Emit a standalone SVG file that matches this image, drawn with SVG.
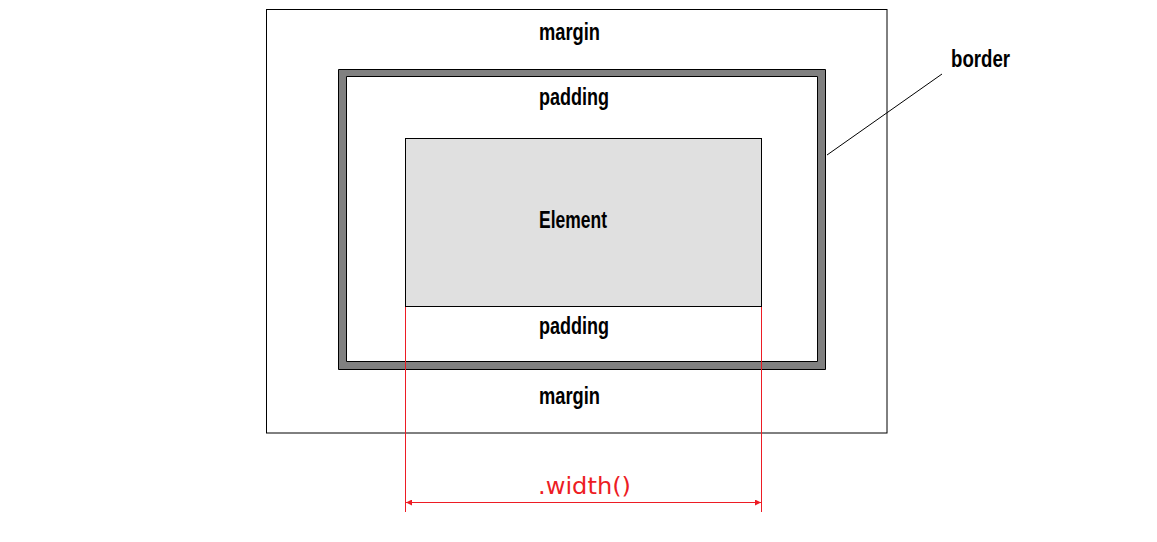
<svg xmlns="http://www.w3.org/2000/svg" width="1157" height="542" viewBox="0 0 1157 542">
<style>
.lbl{font-family:"Liberation Sans",Arial,sans-serif;font-weight:bold;font-size:23px;fill:#000}
.red{stroke:#ed1c24;stroke-width:1;fill:none}
</style>
<defs>
<marker id="ah" viewBox="0 0 10 10" refX="10" refY="5" markerWidth="6" markerHeight="6" orient="auto-start-reverse" markerUnits="userSpaceOnUse">
<path d="M0,0 L10,5 L0,10 Z" fill="#ed1c24"/>
</marker>
</defs>
<rect width="1157" height="542" fill="#fff"/>
<g id="margin">
<rect x="266.5" y="9.5" width="620.5" height="423.5" fill="#fff" stroke="#000"/>
<text class="lbl" x="539" y="40" textLength="61" lengthAdjust="spacingAndGlyphs">margin</text>
<text class="lbl" x="539" y="404" textLength="61" lengthAdjust="spacingAndGlyphs">margin</text>
</g>
<g id="border">
<path d="M338.5,69.5 H825.5 V369.5 H338.5 Z M346.5,76.5 V361.5 H817.5 V76.5 Z" fill="#808080" fill-rule="evenodd" stroke="#000"/>
<text class="lbl" x="951" y="67" textLength="59" lengthAdjust="spacingAndGlyphs">border</text>
</g>
<g id="padding">
<text class="lbl" x="539" y="105" textLength="70" lengthAdjust="spacingAndGlyphs">padding</text>
<text class="lbl" x="539" y="334" textLength="70" lengthAdjust="spacingAndGlyphs">padding</text>
</g>
<g id="element">
<rect x="405.5" y="138.5" width="356" height="168" fill="#e0e0e0" stroke="#000"/>
<text class="lbl" x="539" y="228" textLength="68" lengthAdjust="spacingAndGlyphs">Element</text>
</g>
<g id="connectors">
<line x1="827" y1="155" x2="942" y2="74" stroke="#000" stroke-width="1"/>
<line class="red" x1="405.5" y1="307" x2="405.5" y2="512"/>
<line class="red" x1="761.5" y1="307" x2="761.5" y2="512"/>
<line class="red" x1="406" y1="502.5" x2="761" y2="502.5" marker-start="url(#ah)" marker-end="url(#ah)"/>
<text x="538" y="494" font-family="'DejaVu Sans',Verdana,sans-serif" font-size="23" fill="#ed1c24" textLength="93" lengthAdjust="spacingAndGlyphs">.width()</text>
</g>
</svg>
